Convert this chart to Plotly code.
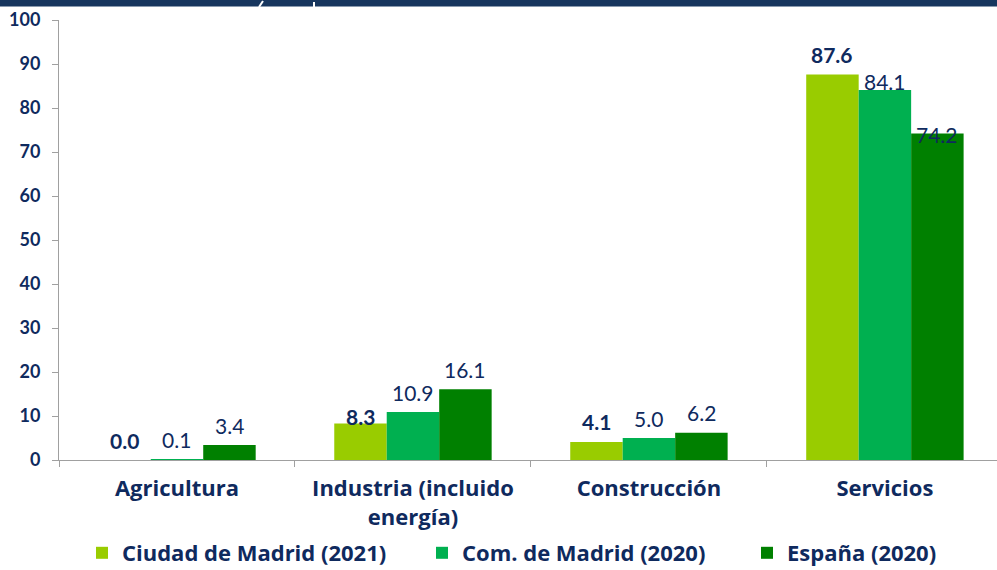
import plotly.graph_objects as go

categories = ["Agricultura", "Industria (incluido<br>energía)", "Construcción", "Servicios"]
series_names = ["Ciudad de Madrid (2021)", "Com. de Madrid (2020)", "España (2020)"]
ciudad = [0.0, 8.3, 4.1, 87.6]
comunidad = [0.1, 10.9, 5.0, 84.1]
espana = [3.4, 16.1, 6.2, 74.2]
y_ticks = [0, 10, 20, 30, 40, 50, 60, 70, 80, 90, 100]

colors = ["#99CC00", "#00B050", "#008000"]
navy = "#0F2A5E"
font_family = "Lato, 'Open Sans', sans-serif"
bold_family = "'Open Sans', Lato, sans-serif"

px_w = 938.0
px_h = 440.0
def xp(px):
    return (px - 59) / px_w
def yp(py):
    return 1 + (20 - py) / px_h

legend_ids = ["legend", "legend2", "legend3"]
legend_x = [82, 422, 747]

series = [ciudad, comunidad, espana]
fig = go.Figure()
for name, vals, col, lid in zip(series_names, series, colors, legend_ids):
    fig.add_trace(go.Bar(
        name=name, x=categories, y=vals, marker=dict(color=col, line=dict(width=0)),
        legend=lid,
    ))

# data labels
label_shift = {(0, 1): 7, (1, 3): 8, (2, 3): -1}
offsets = [-1, 0, 1]
group_w = 1 - 0.333
for si, vals in enumerate(series):
    for ci, v in enumerate(vals):
        fig.add_annotation(
            x=ci, y=v, xref="x", yref="y",
            text=f"{v:.1f}", showarrow=False,
            xshift=offsets[si] * group_w / 3 * 236,
            yshift=label_shift.get((si, ci), 20),
            font=dict(family=font_family, size=21, color=navy,
                      weight="bold" if si == 0 else "normal"),
        )

# header band decoration
fig.add_shape(type="rect", xref="paper", yref="paper", x0=xp(-5), x1=xp(1005),
              y0=yp(6.5), y1=yp(-5), fillcolor="#17365E", line=dict(width=0), layer="above")
fig.add_shape(type="line", xref="paper", yref="paper", x0=xp(259), x1=xp(263),
              y0=yp(7), y1=yp(1), line=dict(color="white", width=2), layer="above")
fig.add_shape(type="line", xref="paper", yref="paper", x0=xp(314), x1=xp(314),
              y0=yp(7), y1=yp(2), line=dict(color="white", width=2), layer="above")

leg_common = dict(orientation="h", xanchor="left", y=yp(553), yanchor="middle",
                  font=dict(family=bold_family, size=22, color=navy, weight="bold"),
                  itemwidth=30, bgcolor="rgba(0,0,0,0)")
fig.update_layout(
    width=997, height=570,
    margin=dict(l=59, r=0, t=20, b=110, autoexpand=False),
    paper_bgcolor="white", plot_bgcolor="white",
    barmode="group", bargap=0.333, bargroupgap=0,
    font=dict(family=font_family, color=navy),
    showlegend=True,
    legend=dict(x=xp(legend_x[0]), **leg_common),
    legend2=dict(x=xp(legend_x[1]), **leg_common),
    legend3=dict(x=xp(legend_x[2]), **leg_common),
)
fig.update_xaxes(
    range=[-0.5, 3.475], showline=True, linecolor="#A0A0A0", linewidth=1,
    ticks="outside", tickson="boundaries", ticklen=6, tickcolor="#A0A0A0",
    tickfont=dict(family=bold_family, size=22, color=navy, weight="bold"), showgrid=False,
    automargin=False, ticklabelstandoff=9,
)
fig.update_yaxes(
    range=[0, 100], tickvals=y_ticks, showline=True, linecolor="#A0A0A0", linewidth=1,
    ticks="outside", ticklen=6, tickcolor="#A0A0A0", showgrid=False, zeroline=False,
    tickfont=dict(size=18, color=navy, weight="bold"), automargin=False,
    ticklabelstandoff=8,
)

fig.write_html("out.html", config={"displayModeBar": False},
               post_script="document.body.style.margin='0';document.body.style.overflow='hidden';")
